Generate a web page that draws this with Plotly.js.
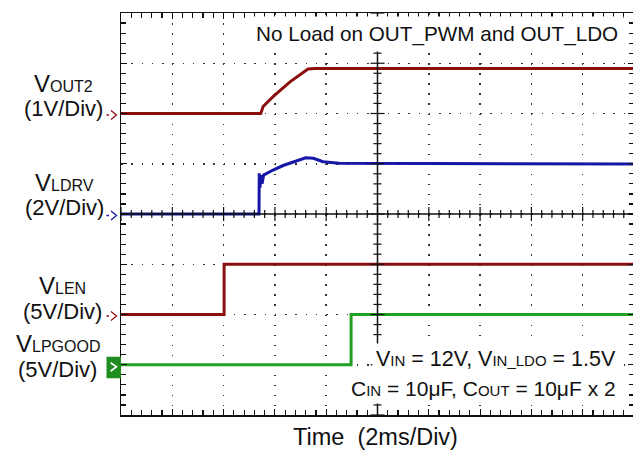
<!DOCTYPE html>
<html><head><meta charset="utf-8">
<script src="https://cdn.plot.ly/plotly-3.0.1.min.js"></script>
<style>html,body{margin:0;padding:0;overflow:hidden;background:#fff}</style>
</head><body><div id="chart" style="width:634px;height:453px"></div>
<script>
// ---- data: time in ms, signal in volts ----
const tOut2 = [0, 5.45, 5.54, 5.94, 6.59, 7.04, 7.29, 7.56, 20];
const vOut2 = [0, 0, 0.14, 0.34, 0.63, 0.80, 0.886, 0.896, 0.896];
const tLdrv = [0, 5.38, 5.39, 5.42, 5.45, 5.50, 5.56, 5.65, 5.93, 6.32, 6.90, 7.20, 7.50, 7.88, 8.50, 20];
const vLdrv = [0, 0, 1.62, 1.05, 1.55, 1.20, 1.55, 1.60, 1.75, 1.93, 2.15, 2.24, 2.22, 2.08, 2.02, 1.99];
const tLen = [0, 4.02, 4.02, 20];
const vLen = [0, 0, 5, 5];
const tPgood = [0, 8.97, 8.97, 20];
const vPgood = [0, 0, 5, 5];

// channel names, scales (V/div) and ground offsets (divisions from bottom)
const chNames = ['OUT2', 'LDRV', 'LEN', 'LPGOOD'];
const chScaleText = ['(1V/Div)', '(2V/Div)', '(5V/Div)', '(5V/Div)'];
const chVoltsPerDiv = [1, 2, 5, 5];
const chGround = [6, 4, 2, 1];
const chColors = ['#8c0f0f', '#1616a8', '#8c0f0f', '#22a022'];
const chT = [tOut2, tLdrv, tLen, tPgood];
const chV = [vOut2, vLdrv, vLen, vPgood];

const titleText = 'No Load on OUT_PWM and OUT_LDO';
const xTitle = 'Time\u00a0 (2ms/Div)';
const sub = s => '<span style="font-size:15px">' + s + '</span>';
const note1 = 'V' + sub('IN') + ' = 12V, V' + sub('IN_LDO') + ' = 1.5V';
const note2 = 'C' + sub('IN') + ' = 10\u03bcF, C' + sub('OUT') + ' = 10\u03bcF x 2';

const FONT = 'Liberation Sans, Arial, sans-serif';
const INK = '#111';

const traces = chNames.map((n, i) => ({
  type: 'scatter', mode: 'lines', name: 'V' + n,
  x: chT[i],
  y: chV[i].map(v => chGround[i] + v / chVoltsPerDiv[i]),
  line: {color: chColors[i], width: 3},
  hoverinfo: 'skip'
}));

const shapes = [];
// centre cross
shapes.push({type:'line', xref:'x', yref:'paper', x0:10, x1:10, y0:0, y1:1, line:{color:INK, width:1.5}});
shapes.push({type:'line', xref:'paper', yref:'y', x0:0, x1:1, y0:4, y1:4, line:{color:INK, width:1.5}});
for (let k = 0; k <= 50; k++) {
  const t = k * 0.4, h = (k % 5 === 0) ? 7 : 4;
  shapes.push({type:'line', xref:'x', yref:'y', ysizemode:'pixel', yanchor:4, x0:t, x1:t, y0:-h, y1:h, line:{color:INK, width:1.2}});
}
for (let k = 0; k <= 40; k++) {
  const y = k * 0.2, h = (k % 5 === 0) ? 7 : 4;
  shapes.push({type:'line', xref:'x', yref:'y', xsizemode:'pixel', xanchor:10, x0:-h, x1:h, y0:y, y1:y, line:{color:INK, width:1.2}});
}
// ground markers
chGround.forEach((g, i) => {
  if (i === 3) {
    shapes.push({type:'rect', xref:'paper', yref:'y', xsizemode:'pixel', ysizemode:'pixel', xanchor:0, yanchor:g,
      x0:-14.5, x1:0, y0:8, y1:-13.5, fillcolor:'#1e8c1e', line:{width:0}});
    shapes.push({type:'path', xref:'paper', yref:'y', xsizemode:'pixel', ysizemode:'pixel', xanchor:0, yanchor:g,
      path:'M-10.5,2 L-4.5,-2 L-10.5,-6.5', line:{color:'#fff', width:1.6}});
  } else {
    shapes.push({type:'path', xref:'paper', yref:'y', xsizemode:'pixel', ysizemode:'pixel', xanchor:0, yanchor:g,
      path:'M-10,3 L-4.5,-1.5 L-10,-6 M-14.5,-1.5 L-12,-1.5', line:{color:chColors[i], width:1.3}});
  }
});

const annotations = [];
// channel labels
const vShift = [30.5, 32, 29.5, 21.5];
const pShift = [5, 6.5, 3, -4.5];
const xCenter = [-58, -57, -59, -63.5];
chNames.forEach((n, i) => {
  annotations.push({xref:'paper', yref:'y', x:0, y:chGround[i], xanchor:'center', yanchor:'middle',
    xshift:xCenter[i], yshift:vShift[i], showarrow:false,
    text:'V<span style="font-size:16px">' + n + '</span>', font:{family:FONT, size:24, color:INK}});
  annotations.push({xref:'paper', yref:'y', x:0, y:chGround[i], xanchor:'center', yanchor:'middle',
    xshift:xCenter[i], yshift:pShift[i], showarrow:false,
    text:chScaleText[i], font:{family:FONT, size:22, color:INK}});
});
annotations.push({xref:'paper', yref:'paper', x:1, y:1, xanchor:'right', yanchor:'middle', xshift:-10, yshift:-21,
  showarrow:false, text:titleText, bgcolor:'#fff', borderpad:5, font:{family:FONT, size:20.7, color:INK}});
annotations.push({xref:'paper', yref:'paper', x:1, y:0, xanchor:'right', yanchor:'middle', xshift:-14, yshift:56,
  showarrow:false, text:note1, bgcolor:'#fff', borderpad:3, font:{family:FONT, size:21.5, color:INK}});
annotations.push({xref:'paper', yref:'paper', x:1, y:0, xanchor:'right', yanchor:'middle', xshift:-14, yshift:27,
  showarrow:false, text:note2, bgcolor:'#fff', borderpad:3, font:{family:FONT, size:21, color:INK}});
annotations.push({xref:'x', yref:'paper', x:10, y:0, xanchor:'center', yanchor:'middle', xshift:-2.5, yshift:-22,
  showarrow:false, text:xTitle, font:{family:FONT, size:23.5, color:INK}});

const layout = {
  width: 634, height: 453,
  margin: {l:121, r:0, t:13, b:38},
  paper_bgcolor:'#fff', plot_bgcolor:'#fff',
  showlegend:false,
  font:{family:FONT, color:INK},
  xaxis:{range:[0,20], dtick:2, showticklabels:false, zeroline:false,
    showline:true, mirror:'ticks', linecolor:INK, linewidth:1.5,
    ticks:'inside', ticklen:6, tickcolor:INK, tickwidth:1.2,
    showgrid:true, gridcolor:'#333', gridwidth:1.5, griddash:'1.5px,8.55px',
    minor:{dtick:0.4, ticks:'inside', ticklen:5, tickcolor:INK, tickwidth:1.2, showgrid:false}},
  yaxis:{range:[0,8], dtick:1, showticklabels:false, zeroline:false,
    showline:true, mirror:'ticks', linecolor:INK, linewidth:1.5,
    ticks:'inside', ticklen:6, tickcolor:INK, tickwidth:1.2,
    showgrid:true, gridcolor:'#333', gridwidth:1.5, griddash:'1.5px,8.76px',
    minor:{dtick:0.2, ticks:'inside', ticklen:5, tickcolor:INK, tickwidth:1.2, showgrid:false}},
  shapes: shapes,
  annotations: annotations
};

Plotly.newPlot('chart', traces, layout, {staticPlot:true, displayModeBar:false});
</script></body></html>
